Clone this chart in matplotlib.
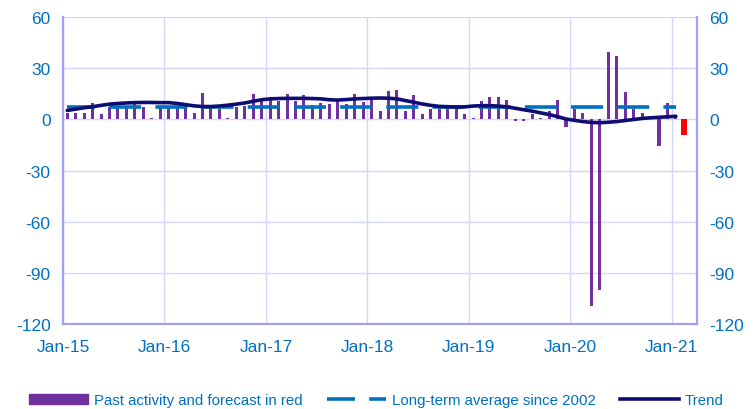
import matplotlib.pyplot as plt
from matplotlib.patches import Patch
from matplotlib.lines import Line2D

plt.rcParams['font.family'] = ['Liberation Sans', 'DejaVu Sans']
plt.rcParams['axes.unicode_minus'] = False

# monthly values, Jan-15 .. Jan-21
activity = [4, 4, 4, 9.5, 3, 7, 7, 7, 11, 7, 0.7, 7,
            7, 7, 6.5, 3.7, 15.6, 6.5, 6, 0.7, 7, 8, 15, 11,
            12, 10.5, 15, 11, 14, 8.2, 9.5, 9, 11.5, 9, 15, 10,
            13, 5, 16.5, 17, 5, 14, 3, 6, 6, 6, 6, 3,
            0.5, 10.5, 13, 13, 11.5, -1, -1, 3, 0.5, 5, 11.5, -4.5,
            6, 3.5, -109.5, -100, 39.3, 37.3, 16.2, 6, 3.5, 0.3, -15.4, 9.4,
            2]
forecast = [-9.2]  # Feb-21

trend = [5.2, 6.0, 6.8, 7.4, 8.2, 8.9, 9.3, 9.6, 9.8, 9.9, 9.9, 9.8,
         9.8, 9.3, 8.6, 7.9, 7.5, 7.5, 7.8, 8.3, 8.9, 9.6, 10.6, 11.5,
         12.0, 12.2, 12.3, 12.3, 12.3, 12.2, 12.0, 11.5, 11.3, 11.6, 12.0, 12.2,
         12.4, 12.5, 12.4, 12.0, 11.0, 10.0, 9.0, 8.2, 7.6, 7.4, 7.2, 7.3,
         7.8, 8.0, 8.0, 7.8, 7.3, 6.5, 5.6, 4.8, 3.8, 2.8, 1.6, 0.2,
         -0.6, -1.3, -1.8, -2.0, -1.7, -1.3, -0.7, -0.1, 0.5, 0.9, 1.2, 1.5,
         1.8]

long_term_avg = 7.0

year_labels = ['Jan-15', 'Jan-16', 'Jan-17', 'Jan-18', 'Jan-19', 'Jan-20', 'Jan-21']
y_ticks = [60, 30, 0, -30, -60, -90, -120]

purple = '#7030A0'
blue = '#0070C0'
navy = '#0D0D73'
grid_col = '#D6D6FA'
spine_col = '#A0A0F5'
avg_style = (1.1, (8.86, 3.93))

fig = plt.figure(figsize=(7.53, 4.10), dpi=100)
ax = fig.add_axes([0.0837, 0.2073, 0.842, 0.7488])

n = len(activity)
xs = [i + 0.5 for i in range(n)]
ax.bar(xs, activity, width=0.36, color=purple, zorder=2)
ax.bar([n + 0.5], forecast, width=0.7, color='#FF0000', zorder=2)

ax.plot(xs, [long_term_avg] * n, color=blue, lw=2.6,
        linestyle=avg_style, dash_capstyle='butt', zorder=3)
ax.plot(xs, trend, color=navy, lw=2.6, solid_capstyle='round', zorder=4)

ax.set_xlim(0, 75)
ax.set_ylim(-120, 60)
ax.set_xticks(range(0, 73, 12))
ax.set_xticklabels(year_labels)
ax.set_yticks(y_ticks)
ax.grid(True, color=grid_col, lw=1.0, zorder=0)
ax.set_axisbelow(True)

ax.tick_params(axis='both', length=0, labelsize=12.5, labelcolor=blue)
ax.tick_params(axis='y', labelleft=True, labelright=True, pad=9)
ax.tick_params(axis='x', pad=11)

for side in ['left', 'right', 'bottom']:
    ax.spines[side].set_color(spine_col)
    ax.spines[side].set_linewidth(1.6)
ax.spines['top'].set_visible(False)

handles = [Patch(color=purple),
           Line2D([], [], color=blue, lw=2.6, linestyle=avg_style),
           Line2D([], [], color=navy, lw=2.6)]
labels = ['Past activity and forecast in red', 'Long-term average since 2002', 'Trend']
fig.legend(handles, labels, loc='center', bbox_to_anchor=(0.5, 9 / 410), ncol=3,
           frameon=False, fontsize=10.8, labelcolor=blue, handlelength=3.9,
           handletextpad=0.4, columnspacing=1.65, borderpad=0)

fig.savefig('out.png', dpi=100)
